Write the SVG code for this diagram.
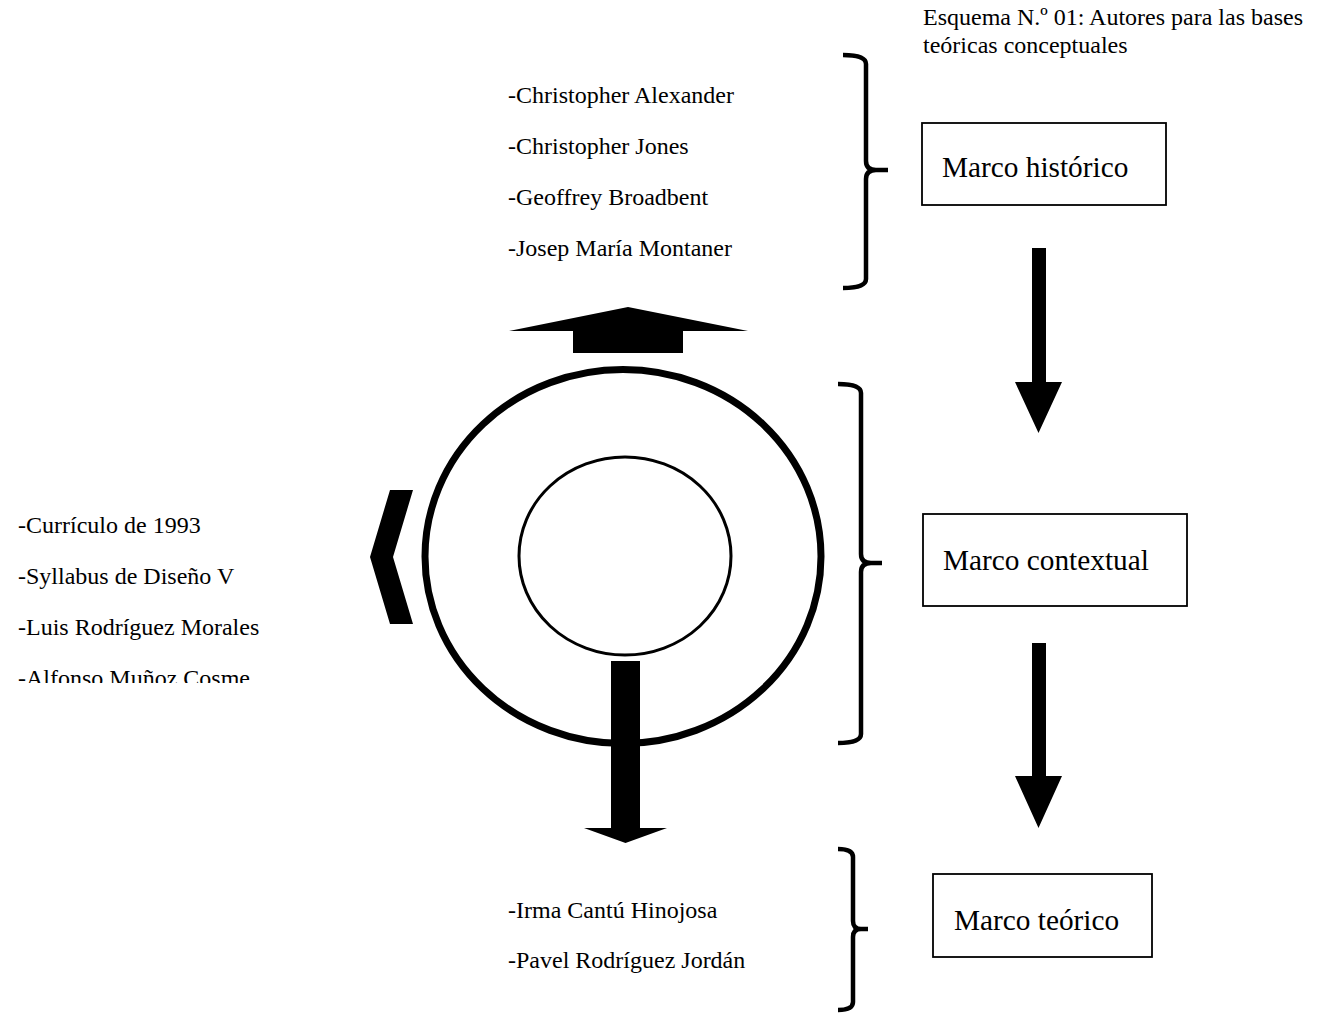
<svg xmlns="http://www.w3.org/2000/svg" width="1329" height="1013" viewBox="0 0 1329 1013">
<defs>
<style>
text{font-family:"Liberation Serif","Times New Roman",serif;fill:#000}
.lst{font-size:24px}
.ttl{font-size:24px}
.box{fill:#fff;stroke:#000;stroke-width:1.8}
.lbl{font-size:29.3px}
.brace{fill:none;stroke:#000;stroke-width:4.5;stroke-linecap:butt;stroke-linejoin:round}
.arr{fill:#000;stroke:none}
</style>
<clipPath id="clipLeft"><rect x="0" y="490" width="360" height="193"/></clipPath>
</defs>
<rect width="1329" height="1013" fill="#fff"/>

<g id="title">
<text class="ttl" x="923" y="25">Esquema N.º 01: Autores para las bases</text>
<text class="ttl" x="923" y="53">teóricas conceptuales</text>
</g>

<g id="list-historico">
<text class="lst" x="508" y="103">-Christopher Alexander</text>
<text class="lst" x="508" y="154">-Christopher Jones</text>
<text class="lst" x="508" y="205">-Geoffrey Broadbent</text>
<text class="lst" x="508" y="256">-Josep María Montaner</text>
</g>

<g id="list-contextual" clip-path="url(#clipLeft)">
<text class="lst" x="18" y="533">-Currículo de 1993</text>
<text class="lst" x="18" y="584">-Syllabus de Diseño V</text>
<text class="lst" x="18" y="635">-Luis Rodríguez Morales</text>
<text class="lst" x="18" y="686">-Alfonso Muñoz Cosme</text>
</g>

<g id="list-teorico">
<text class="lst" x="508" y="918">-Irma Cantú Hinojosa</text>
<text class="lst" x="508" y="968">-Pavel Rodríguez Jordán</text>
</g>

<g id="node-historico">
<rect class="box" x="922" y="123" width="244" height="82"/>
<text class="lbl" x="942" y="177">Marco histórico</text>
</g>
<g id="node-contextual">
<rect class="box" x="923" y="514" width="264" height="92"/>
<text class="lbl" x="943" y="570">Marco contextual</text>
</g>
<g id="node-teorico">
<rect class="box" x="933" y="874" width="219" height="83"/>
<text class="lbl" x="954" y="930">Marco teórico</text>
</g>

<g id="circles">
<ellipse cx="623" cy="556.5" rx="198" ry="187" fill="none" stroke="#000" stroke-width="7"/>
<ellipse cx="625" cy="556" rx="106" ry="99" fill="none" stroke="#000" stroke-width="3"/>
</g>

<g id="connectors">
<polygon class="arr" points="628,307 748,331 683,331 683,353 573,353 573,331 509,331"/>
<polygon class="arr" points="611,661 640,661 640,828 667,828 625.5,843 584,828 611,828"/>
<polygon class="arr" points="390,490 413,490 393,557 413,624 390,624 370,557"/>
<polygon class="arr" points="1032,248 1046,248 1046,382 1062,382 1038.5,433 1015,382 1032,382"/>
<polygon class="arr" points="1032,643 1046,643 1046,776 1062,776 1038.5,828 1015,776 1032,776"/>
<path class="brace" d="M843,55 Q866,55 866,64 V161 Q866,170 876,170 H888 M876,170 Q866,170 866,179 V279 Q866,288 843,288"/>
<path class="brace" d="M838,384 Q861,384 861,393 V554 Q861,563 871,563 H882 M871,563 Q861,563 861,572 V734 Q861,743 838,743"/>
<path class="brace" d="M838,849 Q853,849 853,857 V921 Q853,929 861,929 H868 M861,929 Q853,929 853,937 V1002 Q853,1010 838,1010"/>
</g>
</svg>
